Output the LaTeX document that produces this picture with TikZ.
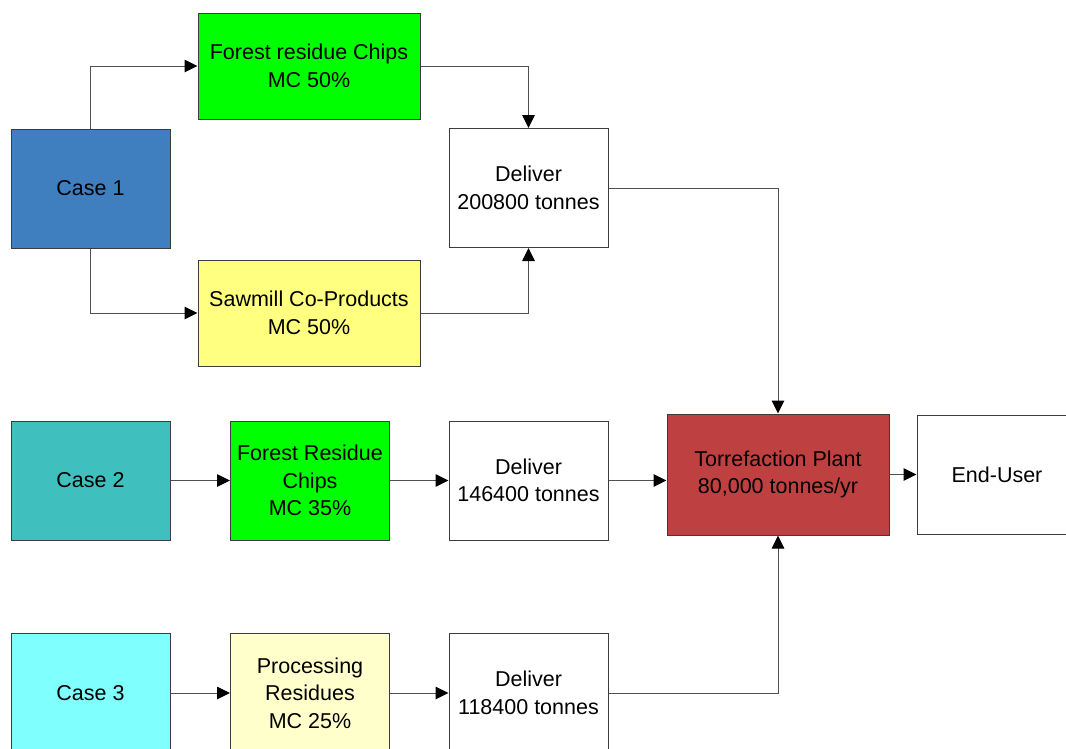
\documentclass[tikz,border=0pt]{standalone}
\usepackage{fontspec}
\setmainfont{Liberation Sans}
\usetikzlibrary{arrows.meta}
\definecolor{caseone}{RGB}{63,127,191}
\definecolor{casetwo}{RGB}{64,191,191}
\definecolor{casethree}{RGB}{128,255,255}
\definecolor{chipgreen}{RGB}{0,255,0}
\definecolor{sawyellow}{RGB}{255,255,128}
\definecolor{procyellow}{RGB}{255,255,204}
\definecolor{plantred}{RGB}{191,64,64}
\definecolor{edgegray}{RGB}{60,60,60}
\definecolor{linegray}{RGB}{80,80,80}
\tikzset{
  box/.style={draw=edgegray, line width=1pt, rectangle, inner sep=0pt,
    align=center, font=\fontsize{21.5}{27.5}\selectfont},
  small/.style={box, minimum width=159pt, minimum height=119pt},
  wide/.style={box, minimum width=222pt, minimum height=106pt},
  flow/.style={draw=linegray, line width=1pt,
    -{Triangle[length=13pt,width=12.5pt,color=black,fill=black]}},
}
\begin{document}
\begin{tikzpicture}[x=1pt,y=-1pt]
\useasboundingbox (0,0) rectangle (1066,748);
% sources
\node[small, fill=caseone] (case1) at (90.5,188.5) {Case 1};
\node[small, fill=casetwo] (case2) at (90.5,480.5) {Case 2};
\node[small, fill=casethree, minimum height=120pt] (case3) at (90.5,693) {Case 3};
% feedstocks
\node[wide, fill=chipgreen] (frc1) at (309,66) {Forest residue Chips\\MC 50\%};
\node[wide, fill=sawyellow] (saw) at (309,313) {Sawmill Co-Products\\MC 50\%};
\node[small, fill=chipgreen] (frc2) at (310,480.5) {Forest Residue\\Chips\\MC 35\%};
\node[small, fill=procyellow, minimum height=120pt] (proc) at (310,693) {Processing\\Residues\\MC 25\%};
% deliveries
\node[small, fill=white] (del1) at (528.5,188) {Deliver\\200800 tonnes};
\node[small, fill=white] (del2) at (528.5,480.5) {Deliver\\146400 tonnes};
\node[small, fill=white, minimum height=120pt] (del3) at (528.5,693) {Deliver\\118400 tonnes};
% plant and user
\node[box, fill=plantred, minimum width=222pt, minimum height=121pt] (torr) at (778,474.5) {Torrefaction Plant\\80,000 tonnes/yr};
\node[box, fill=white, minimum width=160pt, minimum height=119pt] (user) at (997,474.5) {End-User};
% connectors
\draw[flow] (case1.north) |- (frc1.west);
\draw[flow] (case1.south) |- (saw.west);
\draw[flow] (frc1.east) -| (del1.north);
\draw[flow] (saw.east) -| (del1.south);
\draw[flow] (del1.east) -| (torr.north);
\draw[flow] (case2.east) -- (frc2.west);
\draw[flow] (frc2.east) -- (del2.west);
\draw[flow] (del2.east) -- (del2.east -| torr.west);
\draw[flow] (case3.east) -- (proc.west);
\draw[flow] (proc.east) -- (del3.west);
\draw[flow] (del3.east) -| (torr.south);
\draw[flow] (torr.east) -- (user.west);
\end{tikzpicture}
\end{document}
